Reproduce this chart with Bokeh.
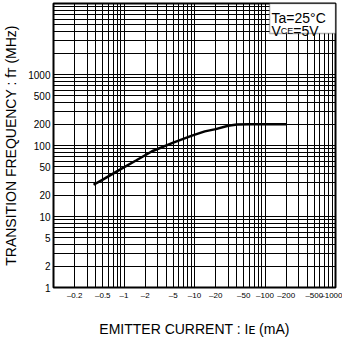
from bokeh.plotting import figure
from bokeh.models import FixedTicker, Label, BoxAnnotation, Range1d
from bokeh.embed import file_html
from bokeh.resources import INLINE

# ---- data ----
emitter_current = [0.37, 0.5, 0.85, 1.5, 2.5, 5, 9.2, 14, 20, 30, 40, 60, 100, 200]   # |IE| mA
transition_freq = [28, 33, 45, 62, 83, 110, 138, 158, 170, 190, 198, 200, 200, 199]   # fT MHz

x_ticks = [0.2, 0.5, 1, 2, 5, 10, 20, 50, 100, 200, 500, 1000]
x_tick_labels = ["\u20130.2", "\u20130.5", "\u20131", "\u20132", "\u20135", "\u201310",
                 "\u201320", "\u201350", "\u2013100", "\u2013200", "\u2013500", "\u20131000"]
y_ticks = [1, 2, 5, 10, 20, 50, 100, 200, 500, 1000]
y_tick_labels = ["1", "2", "5", "10", "20", "50", "100", "200", "500", "1000"]

x_title = "EMITTER CURRENT : I\u1d07 (mA)"
y_title = "TRANSITION FREQUENCY : f\u1d1b (MHz)"

x_grid = [m * 10.0 ** k for k in range(-1, 3) for m in range(1, 10)] + [1000]
y_grid = [m * 10.0 ** k for k in range(0, 4) for m in range(1, 10)] + [10000]

SANS = "'Liberation Sans', Arial, sans-serif"

p = figure(width=342, height=339, x_axis_type="log", y_axis_type="log",
           x_range=Range1d(0.1, 1000), y_range=Range1d(1, 10000),
           output_backend="svg", toolbar_location=None,
           min_border_left=53, min_border_right=7, min_border_top=3, min_border_bottom=52)
p.background_fill_color = "white"
p.border_fill_color = "white"
p.outline_line_color = "black"
p.outline_line_width = 2

# grids
p.xgrid.ticker = FixedTicker(ticks=x_grid)
p.ygrid.ticker = FixedTicker(ticks=y_grid)
for g in (p.xgrid, p.ygrid):
    g.grid_line_color = "black"
    g.grid_line_width = 1
    g.grid_line_alpha = 1.0

# axes
p.xaxis.ticker = FixedTicker(ticks=x_ticks)
p.xaxis.major_label_overrides = dict(zip(x_ticks, x_tick_labels))
p.yaxis.ticker = FixedTicker(ticks=y_ticks)
p.yaxis.major_label_overrides = dict(zip(y_ticks, y_tick_labels))
for ax in (p.xaxis, p.yaxis):
    ax.axis_line_color = None
    ax.major_tick_line_color = None
    ax.minor_tick_line_color = None
    ax.major_tick_in = 0
    ax.major_tick_out = 0
    ax.minor_tick_in = 0
    ax.minor_tick_out = 0
    ax.major_label_text_font = SANS
    ax.major_label_text_color = "black"
    ax.major_label_standoff = 3
    ax.axis_label_text_font = SANS
    ax.axis_label_text_font_size = "14px"
    ax.axis_label_text_font_style = "normal"
    ax.axis_label_text_color = "black"
p.xaxis.major_label_text_font_size = "8px"
p.yaxis.major_label_text_font_size = "10px"
p.xaxis.axis_label = x_title
p.yaxis.axis_label = y_title
p.xaxis.axis_label_standoff = 18
p.yaxis.axis_label_standoff = 6

# curve
p.line(emitter_current, transition_freq, line_color="black", line_width=2.5)

# condition box
p.add_layout(BoxAnnotation(left=116, right=1000, bottom=3780, top=10000,
                           fill_color="white", fill_alpha=1,
                           line_color="black", line_width=1.5))

def lab(x, y, dx, dy, text, size):
    p.add_layout(Label(x=x, y=y, x_offset=dx, y_offset=dy, text=text,
                       text_font=SANS, text_font_size=size, text_color="black",
                       text_align="left", text_baseline="alphabetic"))

lab(1000, 10000, -64, -14, "Ta=25\u00b0C", "14px")
lab(1000, 10000, -64, -27, "V", "14px")
lab(1000, 10000, -54.7, -27, "CE", "9px")
lab(1000, 10000, -42.2, -27, "=5V", "14px")

open("out.html", "w").write(file_html(p, INLINE))
